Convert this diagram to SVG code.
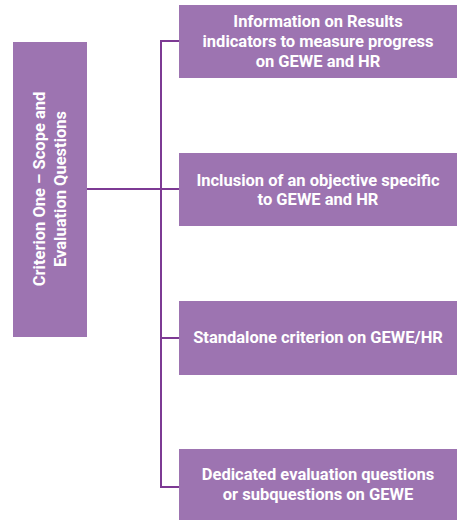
<svg xmlns="http://www.w3.org/2000/svg" width="458" height="520" viewBox="0 0 458 520">
<style>
.box{fill:#9d74b1;}
.t{font-family:Roboto,"Liberation Sans",sans-serif;font-weight:bold;font-size:16.5px;fill:#ffffff;text-anchor:middle;}
.c{fill:none;stroke:#7d3a94;stroke-width:2;}
</style>
<rect width="458" height="520" fill="#ffffff"/>
<g id="connectors">
<path class="c" d="M87 189H179"/>
<path class="c" d="M179 41H161V487H179"/>
<path class="c" d="M161 338H179"/>
</g>
<g id="root">
<rect class="box" x="13" y="42" width="74" height="295"/>
<g transform="translate(50,189) rotate(-90)">
<text class="t" x="0" y="-5">Criterion One – Scope and</text>
<text class="t" x="0" y="16">Evaluation Questions</text>
</g>
</g>
<g id="n1">
<rect class="box" x="179" y="5" width="278" height="73"/>
<text class="t" x="318" y="27">Information on Results</text>
<text class="t" x="318" y="47">indicators to measure progress</text>
<text class="t" x="318" y="67">on GEWE and HR</text>
</g>
<g id="n2">
<rect class="box" x="179" y="153" width="278" height="73"/>
<text class="t" x="318" y="186">Inclusion of an objective specific</text>
<text class="t" x="318" y="205">to GEWE and HR</text>
</g>
<g id="n3">
<rect class="box" x="179" y="301" width="278" height="74"/>
<text class="t" x="318" y="343">Standalone criterion on GEWE/HR</text>
</g>
<g id="n4">
<rect class="box" x="179" y="449" width="278" height="71"/>
<text class="t" x="318" y="480">Dedicated evaluation questions</text>
<text class="t" x="318" y="500">or subquestions on GEWE</text>
</g>
</svg>
